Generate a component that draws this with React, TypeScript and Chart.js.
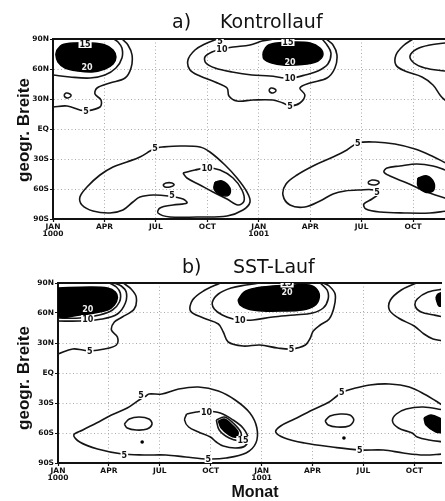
import React, { useEffect, useRef } from 'react';
import { Chart, registerables } from 'chart.js';

Chart.register(...registerables);

type Pt = [number, number];
type Lbl = [number, number, string];

// ---- axis ticks ----
const monthTicks = [0, 3, 6, 9, 12, 15, 18, 21];
const monthLabels: (string | string[])[] = [['JAN', '1000'], 'APR', 'JUL', 'OCT', ['JAN', '1001'], 'APR', 'JUL', 'OCT'];
const latTicks = [-90, -60, -30, 0, 30, 60, 90];
const latLabels = ['90S', '60S', '30S', 'EQ', '30N', '60N', '90N'];

// ---- panel a) Kontrollauf : contour lines (month, latitude) ----
const aNH1c5: Pt[] = [[0, 22], [0.82, 23], [1.57, 19], [1.92, 18], [2.74, 22], [2.8, 29], [2.45, 35], [2.57, 41], [3.32, 46], [4.2, 51], [4.55, 61], [4.61, 74], [4.37, 84], [4.02, 90]];
const aNH1c10: Pt[] = [[0, 54], [0.99, 52], [2.16, 51], [3.03, 54], [3.67, 61], [4.02, 71], [4.02, 81], [3.79, 87], [3.56, 90]];
const aNH1c15: Pt[] = [[0.23, 79], [0.52, 84], [1.28, 86], [2.16, 86], [3.03, 84], [3.5, 79], [3.67, 72], [3.5, 65], [3.03, 60], [2.27, 57], [1.46, 58], [0.7, 61], [0.29, 67], [0.17, 74], [0.23, 79]];
const aNH1loop: Pt[] = [[0.64, 34], [0.76, 36], [0.99, 35], [1.05, 33], [0.87, 31], [0.7, 32], [0.64, 34]];
const aNH2c5: Pt[] = [[9.56, 90], [8.86, 85], [8.28, 79], [7.87, 69], [7.99, 59], [8.57, 53], [9.45, 47], [10.15, 41], [10.26, 33], [10.73, 28], [11.66, 29], [12.83, 29], [13.41, 26], [13.82, 23], [14.4, 26], [14.69, 34], [14.4, 41], [14.99, 46], [15.98, 51], [16.44, 61], [16.56, 74], [16.33, 84], [15.92, 90]];
const aNH2c10: Pt[] = [[12.9, 90], [12.19, 88], [11.49, 84], [10.5, 82], [9.85, 80], [9.27, 77], [8.86, 72], [8.92, 66], [9.45, 61], [10.44, 57], [11.6, 54], [12.65, 53], [13.53, 51], [13.94, 51], [14.69, 54], [15.45, 58], [16.03, 65], [16.21, 76], [15.98, 84], [15.69, 90]];
const aNH2c15: Pt[] = [[12.24, 76], [12.48, 83], [13.06, 86], [13.99, 87], [14.99, 86], [15.57, 81], [15.74, 74], [15.45, 68], [14.81, 65], [14.11, 64], [13.41, 64], [12.77, 66], [12.3, 70], [12.24, 76]];
const aNH2loop: Pt[] = [[12.59, 39], [12.71, 41], [12.94, 40], [13.0, 38], [12.83, 36], [12.65, 37], [12.59, 39]];
const aNH3c5: Pt[] = [[20.99, 90], [20.41, 83], [20.0, 74], [20.0, 64], [20.52, 58], [21.52, 52], [22.16, 44], [22.57, 34], [22.86, 29], [23.3, 26]];
const aNH3c10: Pt[] = [[23.3, 86], [22.86, 86], [21.98, 84], [21.22, 80], [20.82, 73], [21.05, 66], [21.69, 61], [22.86, 58], [23.3, 57]];
const aSH1c5: Pt[] = [[5.95, -19], [5.66, -22], [5.07, -28], [4.31, -33], [3.5, -38], [2.74, -46], [1.98, -58], [1.57, -68], [1.69, -76], [2.33, -82], [3.32, -84], [4.08, -81], [4.66, -73], [5.07, -68], [5.83, -66], [6.71, -67], [7.58, -70], [7.81, -74], [7.0, -76], [6.24, -79], [6.12, -84], [6.82, -88], [8.4, -88], [10.15, -87], [11.08, -81], [11.49, -73], [11.31, -63], [10.73, -49], [10.03, -36], [9.15, -23], [8.57, -18], [7.41, -17], [6.36, -18], [5.95, -19]];
const aSH1c10: Pt[] = [[7.58, -44], [8.28, -41], [8.98, -39], [9.74, -41], [10.5, -49], [11.02, -61], [11.14, -72], [10.79, -76], [10.15, -70], [9.33, -63], [8.57, -56], [7.81, -49], [7.58, -44]];
const aSH1c15: Pt[] = [[9.45, -53], [9.85, -52], [10.32, -59], [10.26, -66], [9.8, -66], [9.39, -60], [9.45, -53]];
const aSH1loop: Pt[] = [[6.41, -56], [6.59, -54], [6.94, -54], [7.06, -56], [6.82, -58], [6.53, -58], [6.41, -56]];
const aSH2c5: Pt[] = [[23.3, -82], [23.03, -82], [21.98, -84], [20.52, -84], [19.07, -83], [18.25, -80], [18.13, -75], [18.6, -70], [18.95, -65], [18.72, -61], [17.9, -61], [17.03, -62], [16.33, -65], [15.57, -72], [14.69, -78], [13.82, -76], [13.41, -66], [13.59, -55], [14.23, -46], [15.28, -36], [16.33, -28], [17.14, -21], [17.78, -14], [18.78, -13], [19.94, -15], [21.11, -20], [22.1, -27], [23.03, -35], [23.3, -37]];
const aSH2c10: Pt[] = [[23.3, -43], [23.03, -42], [22.16, -37], [21.22, -35], [20.23, -37], [19.48, -39], [19.3, -43], [19.65, -47], [20.64, -54], [21.81, -63], [23.03, -70], [23.3, -71]];
const aSH2c15: Pt[] = [[21.28, -49], [21.81, -47], [22.22, -54], [22.16, -62], [21.69, -63], [21.28, -57], [21.28, -49]];
const aSH2loop: Pt[] = [[18.37, -53], [18.6, -51], [18.95, -52], [19.01, -54], [18.78, -56], [18.43, -55], [18.37, -53]];
const aLabels: Lbl[] = [[1.92, 18, '5'], [1.87, 85, '15'], [9.74, 88, '5'], [9.85, 80, '10'], [13.82, 23, '5'], [13.82, 51, '10'], [13.7, 87, '15'], [5.95, -19, '5'], [6.94, -66, '5'], [8.98, -39, '10'], [17.78, -14, '5'], [18.89, -63, '5']];
const aInnerLabels: Lbl[] = [[1.98, 62, '20'], [13.82, 67, '20']];

// ---- panel b) SST-Lauf ----
const bNH1c5: Pt[] = [[0, 19], [0.87, 24], [1.46, 23], [1.87, 22], [2.74, 24], [3.44, 28], [3.5, 36], [3.15, 43], [3.32, 51], [3.79, 56], [4.49, 64], [4.61, 76], [4.31, 84], [3.85, 90]];
const bNH1c10: Pt[] = [[0, 52], [1.28, 52], [2.62, 54], [3.5, 59], [3.97, 70], [4.02, 81], [3.73, 87], [3.32, 90]];
const bNH1c15: Pt[] = [[0, 55], [1.28, 55], [2.45, 58], [3.21, 63], [3.62, 71], [3.67, 80], [3.44, 86], [3.03, 90]];
const bNH1c20: Pt[] = [[0, 85], [1.87, 86], [2.92, 85], [3.38, 81], [3.5, 75], [3.32, 68], [2.92, 63], [2.16, 60], [1.28, 58], [0, 57], [0, 85]];
const bNH2c5: Pt[] = [[9.56, 90], [8.57, 82], [7.93, 73], [7.81, 62], [8.57, 55], [9.45, 49], [9.74, 41], [10.03, 31], [10.9, 27], [11.9, 28], [12.94, 25], [13.76, 24], [14.58, 28], [14.87, 35], [15.04, 42], [15.45, 48], [15.98, 54], [16.27, 66], [16.33, 79], [15.98, 87], [15.63, 90]];
const bNH2c10: Pt[] = [[11.9, 90], [11.08, 88], [10.2, 85], [9.45, 79], [9.1, 71], [9.21, 64], [9.68, 58], [10.32, 54], [10.73, 53], [11.49, 53], [12.65, 56], [13.94, 58], [14.99, 60], [15.63, 65], [15.92, 74], [15.86, 83], [15.45, 90]];
const bNH2c20: Pt[] = [[10.61, 73], [10.96, 81], [11.66, 85], [12.65, 87], [13.82, 88], [14.81, 88], [15.28, 83], [15.39, 75], [15.1, 67], [14.4, 63], [13.24, 62], [12.07, 62], [11.2, 64], [10.73, 68], [10.61, 73]];
const bNH3c5: Pt[] = [[21.11, 90], [20.23, 83], [19.59, 73], [19.53, 63], [20.06, 55], [20.99, 47], [21.57, 39], [22.1, 34], [22.74, 32], [23.2, 31]];
const bNH3c10: Pt[] = [[23.2, 85], [22.74, 84], [21.81, 81], [21.17, 74], [21.05, 67], [21.4, 61], [22.16, 58], [22.74, 56], [23.2, 55]];
const bNH3c20: Pt[] = [[22.27, 75], [22.39, 79], [22.74, 81], [23.2, 82], [23.2, 66], [22.74, 67], [22.45, 67], [22.27, 75]];
const bSH1c5: Pt[] = [[5.19, -23], [4.78, -27], [4.08, -35], [3.15, -42], [2.27, -50], [1.46, -57], [0.93, -62], [1.28, -69], [2.33, -76], [3.79, -81], [5.07, -82], [6.36, -82], [7.52, -84], [8.86, -86], [9.91, -85], [11.08, -80], [11.66, -70], [11.72, -55], [11.31, -40], [10.44, -27], [9.45, -18], [8.28, -14], [7.11, -16], [6.12, -21], [5.36, -21], [5.19, -23]];
const bSH1c10: Pt[] = [[7.58, -41], [8.16, -39], [8.75, -38], [9.56, -40], [10.32, -47], [10.9, -55], [11.2, -65], [11.02, -73], [10.44, -75], [9.74, -73], [9.33, -69], [8.98, -64], [8.28, -59], [7.7, -54], [7.46, -47], [7.58, -41]];
const bSH1c15: Pt[] = [[9.33, -47], [9.8, -44], [10.32, -50], [10.79, -60], [10.67, -67], [10.09, -65], [9.5, -57], [9.33, -47]];
const bSH1c20: Pt[] = [[9.45, -48], [9.8, -46], [10.2, -51], [10.61, -59], [10.5, -64], [10.09, -62], [9.62, -55], [9.45, -48]];
const bSH1loop: Pt[] = [[3.91, -51], [4.2, -46], [4.78, -44], [5.36, -46], [5.54, -51], [5.25, -56], [4.61, -57], [4.08, -55], [3.91, -51]];
const bSH2c5: Pt[] = [[23.2, -81], [22.74, -81], [21.57, -82], [20.35, -80], [19.18, -77], [17.78, -77], [16.15, -74], [14.52, -70], [13.35, -65], [12.83, -59], [13.12, -53], [13.94, -46], [14.99, -37], [15.98, -29], [16.44, -23], [16.79, -19], [17.32, -16], [18.37, -12], [19.53, -11], [20.7, -14], [21.69, -22], [22.27, -28], [22.74, -33], [23.2, -37]];
const bSH2c10: Pt[] = [[23.2, -38], [22.74, -37], [21.52, -34], [20.52, -36], [19.94, -41], [19.71, -48], [20.06, -55], [20.87, -60], [21.17, -64], [21.87, -67], [22.74, -69], [23.2, -70]];
const bSH2c20: Pt[] = [[21.57, -45], [21.98, -42], [22.74, -47], [23.2, -49], [23.2, -61], [22.74, -60], [22.27, -59], [21.69, -52], [21.57, -45]];
const bSH2loop: Pt[] = [[15.74, -48], [16.03, -43], [16.62, -41], [17.2, -42], [17.43, -47], [17.14, -53], [16.44, -54], [15.92, -52], [15.74, -48]];
const bMinima: Pt[] = [[4.96, -69], [16.85, -65]];
const bLabels: Lbl[] = [[1.87, 22, '5'], [1.75, 54, '10'], [13.76, 24, '5'], [10.73, 53, '10'], [13.5, 89.5, '15'], [4.9, -22, '5'], [3.91, -82, '5'], [8.86, -86, '5'], [8.75, -39, '10'], [10.9, -67, '15'], [16.73, -19, '5'], [17.78, -77, '5']];
const bInnerLabels: Lbl[] = [[1.75, 64, '20'], [13.5, 81, '20']];

interface Panel {
  lines: Pt[][];
  filled: Pt[][];
  dots: Pt[];
  labels: Lbl[];
  innerLabels: Lbl[];
  xMax: number;
  left: number;
  top: number;
  axisH: number;
  tag: string;
  tagX: number;
  name: string;
  nameX: number;
  titleBase: number;
  yLabelY: number;
  monat: boolean;
}

const panelA: Panel = {
  lines: [aNH1c5, aNH1c10, aNH1loop, aNH2c5, aNH2c10, aNH2loop, aNH3c5, aNH3c10, aSH1c5, aSH1c10, aSH1loop, aSH2c5, aSH2c10, aSH2loop],
  filled: [aNH1c15, aNH2c15, aSH1c15, aSH2c15],
  dots: [],
  labels: aLabels,
  innerLabels: aInnerLabels,
  xMax: 22.86,
  left: 53,
  top: 39,
  axisH: 31,
  tag: 'a)',
  tagX: 172,
  name: 'Kontrollauf',
  nameX: 220,
  titleBase: 28,
  yLabelY: 130,
  monat: false,
};

const panelB: Panel = {
  lines: [bNH1c5, bNH1c10, bNH1c15, bNH2c5, bNH2c10, bNH3c5, bNH3c10, bSH1c5, bSH1c10, bSH1c15, bSH1loop, bSH2c5, bSH2c10, bSH2loop],
  filled: [bNH1c20, bNH2c20, bNH3c20, bSH1c20, bSH2c20],
  dots: bMinima,
  labels: bLabels,
  innerLabels: bInnerLabels,
  xMax: 22.57,
  left: 58,
  top: 33,
  axisH: 38,
  tag: 'b)',
  tagX: 182,
  name: 'SST-Lauf',
  nameX: 233,
  titleBase: 23,
  yLabelY: 128,
  monat: true,
};

const toXY = (pts: Pt[]) => pts.map(([x, y]) => ({ x, y }));

function makeChart(canvas: HTMLCanvasElement, p: Panel) {
  const datasets: any[] = [];
  p.filled.forEach((f) =>
    datasets.push({
      data: toXY(f), showLine: true, fill: 'shape', backgroundColor: '#000', borderColor: '#000',
      borderWidth: 1.5, pointRadius: 0, tension: 0.35, xAxisID: 'x', yAxisID: 'y',
    })
  );
  p.lines.forEach((l) =>
    datasets.push({
      data: toXY(l), showLine: true, fill: false, borderColor: '#151515', borderWidth: 1.6,
      pointRadius: 0, tension: 0.35, xAxisID: 'x', yAxisID: 'y',
    })
  );
  if (p.dots.length) {
    datasets.push({
      data: toXY(p.dots), showLine: false, pointRadius: 1.8, pointBackgroundColor: '#000',
      pointBorderWidth: 0, xAxisID: 'x', yAxisID: 'y',
    });
  }

  const tickFont = { family: '"DejaVu Sans"', size: 7.5, weight: 'bold' as const, lineHeight: 1 };

  const overlay = {
    id: 'overlay',
    afterDatasetsDraw(chart: any) {
      const { ctx, chartArea } = chart;
      const xs = chart.scales.x;
      const ys = chart.scales.y;
      ctx.save();
      ctx.beginPath();
      ctx.rect(chartArea.left, chartArea.top, chartArea.right - chartArea.left, chartArea.bottom - chartArea.top);
      ctx.clip();
      ctx.font = 'bold 8px "DejaVu Sans"';
      ctx.textAlign = 'center';
      ctx.textBaseline = 'middle';
      p.labels.forEach(([m, lat, t]) => {
        const px = xs.getPixelForValue(m);
        const py = ys.getPixelForValue(lat);
        const w = ctx.measureText(t).width + 2;
        ctx.fillStyle = '#fff';
        ctx.fillRect(px - w / 2, py - 4, w, 8);
        ctx.fillStyle = '#111';
        ctx.fillText(t, px, py + 0.5);
      });
      p.innerLabels.forEach(([m, lat, t]) => {
        ctx.fillStyle = '#eee';
        ctx.fillText(t, xs.getPixelForValue(m), ys.getPixelForValue(lat) + 0.5);
      });
      ctx.restore();
    },
    afterDraw(chart: any) {
      const { ctx, chartArea } = chart;
      ctx.save();
      ctx.fillStyle = '#111';
      ctx.textBaseline = 'alphabetic';
      ctx.textAlign = 'left';
      ctx.font = '19px "DejaVu Sans"';
      ctx.fillText(p.tag, p.tagX, p.titleBase);
      ctx.fillText(p.name, p.nameX, p.titleBase);
      ctx.font = 'bold 17px "Liberation Sans"';
      ctx.textAlign = 'center';
      ctx.textBaseline = 'middle';
      ctx.translate(24, p.yLabelY);
      ctx.rotate(-Math.PI / 2);
      ctx.fillText('geogr. Breite', 0, 0);
      ctx.restore();
      if (p.monat) {
        ctx.save();
        ctx.fillStyle = '#111';
        ctx.font = 'bold 16px "Liberation Sans"';
        ctx.textAlign = 'center';
        ctx.textBaseline = 'alphabetic';
        ctx.fillText('Monat', 255, chartArea.bottom + 34);
        ctx.restore();
      }
    },
  };

  return new Chart(canvas, {
    type: 'scatter',
    data: { datasets },
    plugins: [overlay],
    options: {
      responsive: false,
      animation: false,
      events: [],
      layout: { padding: { top: p.top, left: 0, right: 0, bottom: 0 } },
      plugins: { legend: { display: false }, tooltip: { enabled: false }, title: { display: false } },
      scales: {
        x: {
          type: 'linear',
          position: 'bottom',
          min: 0,
          max: p.xMax,
          afterBuildTicks: (s: any) => { s.ticks = monthTicks.map((v) => ({ value: v })); },
          afterFit: (s: any) => { s.height = p.axisH; },
          ticks: {
            autoSkip: false, maxRotation: 0, padding: 1, color: '#111', font: tickFont,
            callback: (v: any) => monthLabels[monthTicks.indexOf(Number(v))] ?? '',
          },
          grid: { color: '#ababab', lineWidth: 1, tickLength: 3, tickColor: '#111', tickWidth: 1.2 },
          border: { color: '#111', width: 2, dash: [1, 2.5] },
        },
        x2: {
          type: 'linear',
          position: 'top',
          min: 0,
          max: p.xMax,
          afterFit: (s: any) => { s.height = 0; },
          ticks: { display: false },
          grid: { display: false, drawTicks: false, drawOnChartArea: false },
          border: { display: true, color: '#111', width: 2 },
        },
        y: {
          type: 'linear',
          position: 'left',
          min: -90,
          max: 90,
          afterBuildTicks: (s: any) => { s.ticks = latTicks.map((v) => ({ value: v })); },
          afterFit: (s: any) => { s.width = p.left; },
          ticks: {
            autoSkip: false, padding: 1, color: '#111', font: tickFont,
            callback: (v: any) => latLabels[latTicks.indexOf(Number(v))] ?? '',
          },
          grid: { color: '#ababab', lineWidth: 1, tickLength: 3, tickColor: '#111', tickWidth: 1.2 },
          border: { color: '#111', width: 2, dash: [1, 2.5] },
        },
      },
    } as any,
  });
}

export default function App() {
  const refA = useRef<HTMLCanvasElement>(null);
  const refB = useRef<HTMLCanvasElement>(null);

  useEffect(() => {
    const ca = makeChart(refA.current!, panelA);
    const cb = makeChart(refB.current!, panelB);
    return () => {
      ca.destroy();
      cb.destroy();
    };
  }, []);

  return (
    <div style={{ position: 'absolute', left: 0, top: 0, width: 445, height: 501, overflow: 'hidden', background: '#fff' }}>
      <canvas ref={refA} width={445} height={250} style={{ display: 'block', width: 445, height: 250 }} />
      <canvas ref={refB} width={445} height={251} style={{ display: 'block', width: 445, height: 251 }} />
    </div>
  );
}
